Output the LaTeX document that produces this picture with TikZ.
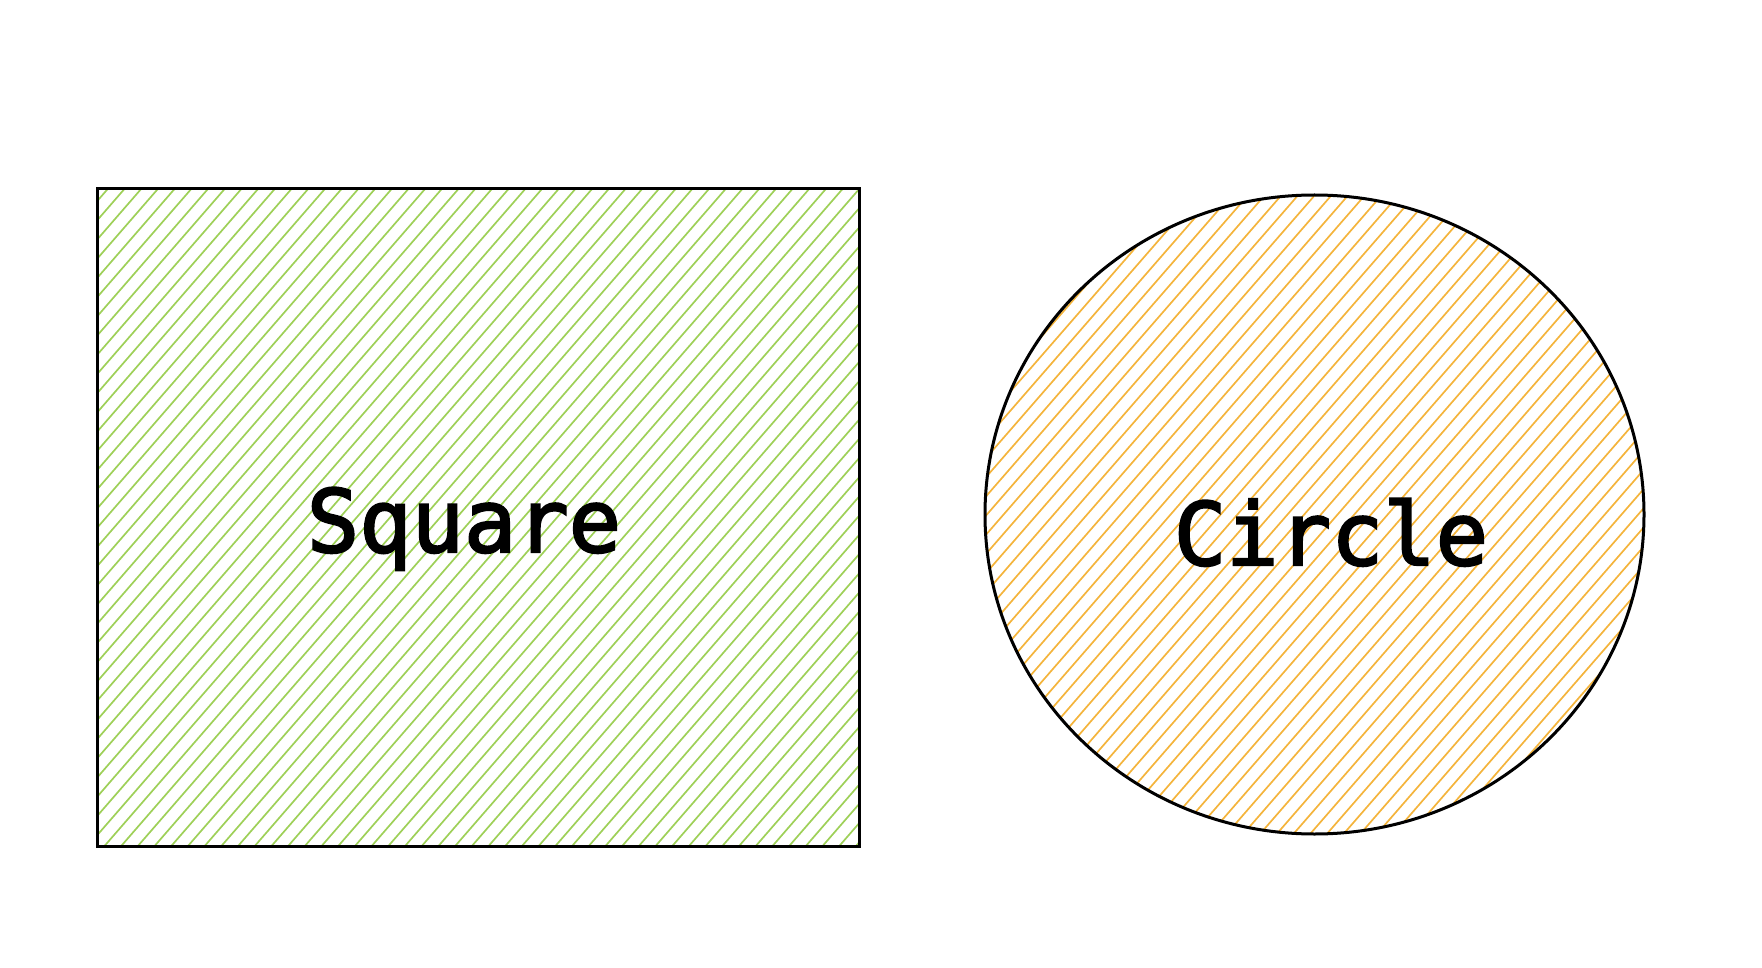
\documentclass[tikz,border=0pt]{standalone}
\usepackage{fontspec}
\newfontfamily\shapefont{DejaVu Sans Mono}[FakeBold=2.5]

\definecolor{hatchgreen}{RGB}{158,208,88}
\definecolor{hatchorange}{RGB}{244,180,60}

\begin{document}
\begin{tikzpicture}[x=1pt, y=-1pt]
\useasboundingbox (0, 0) rectangle (1762, 968);
\tikzset{
  hatch/.style={line width=1.7pt},
  outline/.style={black, line width=3pt},
  shapelabel/.style={anchor=base, inner sep=0pt, font=\shapefont\fontsize{87}{100}\selectfont}
}
% square hatching
\begin{scope}
\clip (97, 189) rectangle (859, 846);
\foreach \d in {-480, -463.3, ..., 870}
  \draw[hatch, hatchgreen] (\d, 846) -- (\d + 571, 189);
\end{scope}
\draw[outline] (97, 189) rectangle (859, 846);
\node[shapelabel] (square) at (464, 552) {Square};
% circle hatching
\begin{scope}
\clip (1314.5, 514.5) ellipse (329.5 and 319.5);
\foreach \d in {425, 441.7, ..., 1660}
  \draw[hatch, hatchorange] (\d, 834) -- (\d + 556, 195);
\end{scope}
\draw[outline] (1314.5, 514.5) ellipse (329.5 and 319.5);
\node[shapelabel] (circle) at (1331, 565) {Circle};
\end{tikzpicture}
\end{document}
